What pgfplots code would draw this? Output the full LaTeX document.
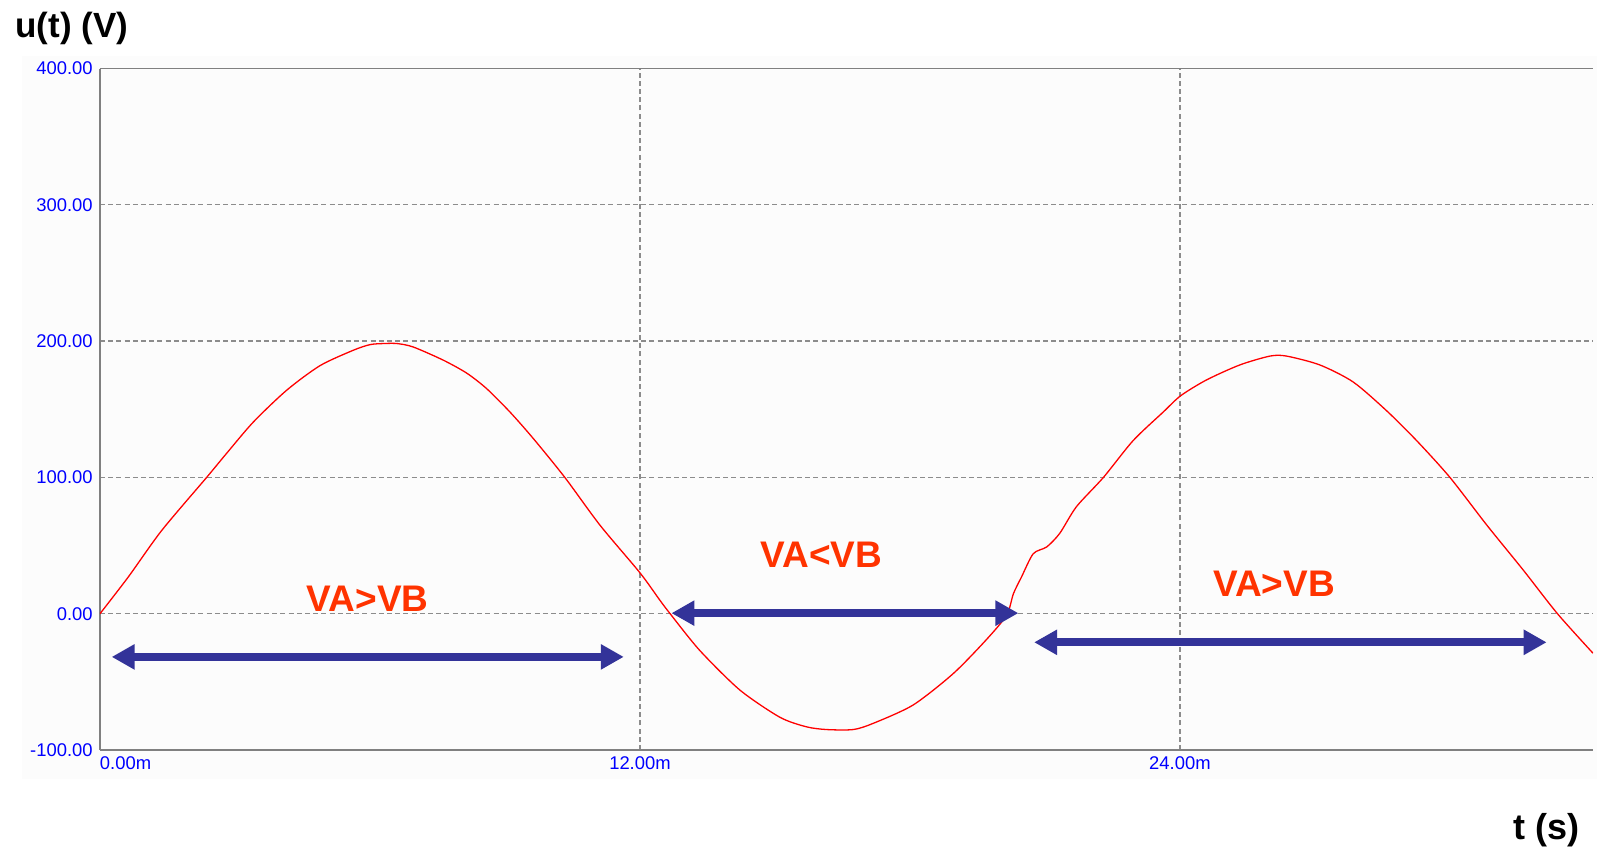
\documentclass[border=0pt]{standalone}
\usepackage{fontspec}
\setmainfont{Liberation Sans}
\usepackage{pgfplots}
\pgfplotsset{compat=1.18}
\usetikzlibrary{arrows.meta}
\definecolor{curvered}{RGB}{255,0,0}
\definecolor{arrowblue}{RGB}{51,51,153}
\definecolor{labelred}{RGB}{255,51,0}
\definecolor{tickblue}{RGB}{0,0,255}
\definecolor{gridgray}{RGB}{140,140,140}
\definecolor{axisgray}{RGB}{128,128,128}
\definecolor{panel}{RGB}{252,252,252}
\begin{document}
\begin{tikzpicture}
\useasboundingbox (0pt,0pt) rectangle (798.5pt,425.5pt);
\fill[panel] (11pt,36pt) rectangle (798.5pt,397.5pt);
\node[anchor=base west, inner sep=0pt, font=\bfseries\fontsize{17.5}{20}\selectfont] at (7.5pt,406.75pt) {u(t) (V)};
\node[anchor=base west, inner sep=0pt, font=\bfseries\fontsize{18}{21}\selectfont] at (756.5pt,5.75pt) {t (s)};
\begin{axis}[
  at={(50pt,50.5pt)}, anchor=south west,
  scale only axis, width=746.5pt, height=340.75pt,
  xmin=0, xmax=33.18, ymin=-100, ymax=400,
  axis x line=box, axis y line=left,
  axis line style={axisgray, line width=0.75pt, -},
  y axis line style={-},
  xtick={0,12,24},
  xticklabels={\makebox[0pt][l]{0.00m},12.00m,24.00m},
  ytick={-100,0,100,200,300,400},
  yticklabels={-100.00,0.00,100.00,200.00,300.00,400.00},
  major tick length=0pt,
  tick label style={font=\fontsize{9.2}{11}\selectfont, text=tickblue, inner sep=0pt},
  yticklabel style={anchor=east, xshift=-3.5pt},
  xticklabel style={anchor=north, yshift=-3.3pt},
  grid=major,
  major grid style={gridgray, dash pattern=on 2.5pt off 1.6pt, line width=0.65pt},
  clip=true,
]
\addplot[curvered, line width=0.65pt, smooth, tension=0.45] coordinates {
(0,0) (0.63,27) (1.37,61) (2.37,100) (2.81,117.5) (3.41,140.7) (4.15,164)
(4.89,182) (5.63,193.3) (6.0,197.4) (6.3,198.2) (6.6,198.2) (6.96,195.7)
(7.63,186) (8.15,176.5) (8.59,165.2) (9.11,148) (9.63,128.5)
(10.33,100) (11.11,65) (12.0,30) (12.44,10) (12.67,0)
(13.33,-27) (14.22,-56) (15.11,-76) (15.7,-83) (16.15,-85) (16.74,-85)
(17.18,-80.5) (18.07,-67) (18.96,-44) (19.7,-19) (20.15,-1) (20.3,14.7)
(20.48,27) (20.74,44) (21.04,49) (21.33,59) (21.7,78.5) (22.3,100)
(22.96,127) (23.63,148) (24.02,160) (24.59,171.5) (25.33,182.5)
(26.0,189) (26.37,189) (27.11,182.5) (27.85,170) (28.59,149)
(29.26,127) (30.0,100) (30.82,65) (31.63,32) (32.39,0) (33.18,-29)
};
\addplot[arrowblue, line width=4pt, {Triangle[length=11.5pt,width=12pt]}-{Triangle[length=11.5pt,width=12pt]}] coordinates {(0.26,-31.7) (11.64,-31.7)};
\addplot[arrowblue, line width=4pt, {Triangle[length=11.5pt,width=12pt]}-{Triangle[length=11.5pt,width=12pt]}] coordinates {(12.7,0.4) (20.41,0.4)};
\addplot[arrowblue, line width=4pt, {Triangle[length=11.5pt,width=12pt]}-{Triangle[length=11.5pt,width=12pt]}] coordinates {(20.76,-21) (32.15,-21)};
\node[font=\bfseries\fontsize{18.5}{22}\selectfont, text=labelred, inner sep=0pt] at (axis cs:5.95,10.6) {VA>VB};
\node[font=\bfseries\fontsize{18.5}{22}\selectfont, text=labelred, inner sep=0pt] at (axis cs:16.03,42.9) {VA<VB};
\node[font=\bfseries\fontsize{18.5}{22}\selectfont, text=labelred, inner sep=0pt] at (axis cs:26.09,21.9) {VA>VB};
\end{axis}
\end{tikzpicture}
\end{document}
